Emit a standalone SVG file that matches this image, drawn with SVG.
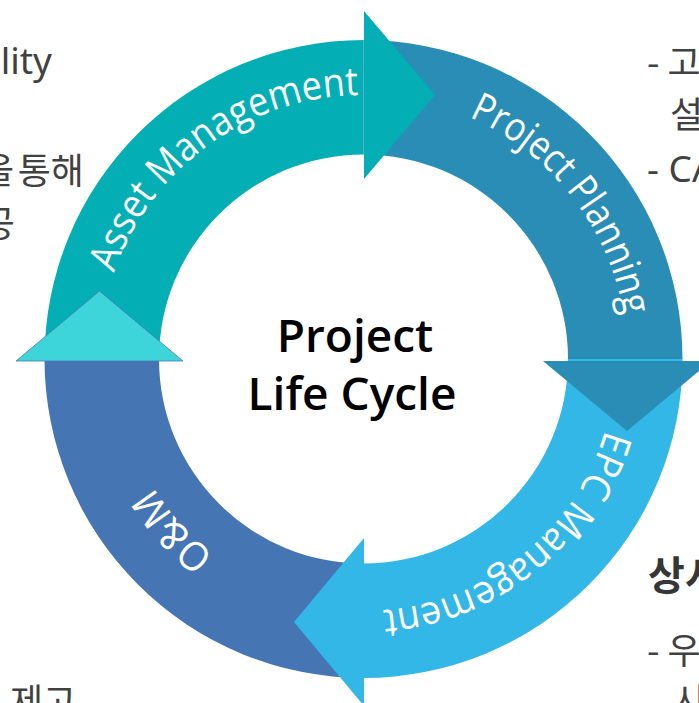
<svg xmlns="http://www.w3.org/2000/svg" width="699" height="703" viewBox="0 0 699 703">
  <style>
    .lbl{font-family:"Open Sans","Noto Sans",sans-serif;font-size:40px;fill:#ffffff}
    .side{font-family:"Noto Sans","Noto Sans CJK KR",sans-serif;font-size:37px;fill:#414141}
    .kr{font-family:"Noto Sans CJK KR","Noto Sans",sans-serif;font-size:36px;fill:#414141}
    .head{font-family:"Noto Sans CJK KR","Noto Sans",sans-serif;font-size:40px;font-weight:700;fill:#363636}
    .title{font-family:"Open Sans","Noto Sans",sans-serif;font-size:46px;font-weight:600;fill:#000000;text-anchor:middle}
  </style>
  <defs>
    <path id="p-asset" d="M 100.95 386.6 A 264 264 0 0 1 470.88 117.82"/>
    <path id="p-plan" d="M 326.76 97.57 A 264 264 0 0 1 608.28 457.9"/>
    <path id="p-epc" d="M 612.4 319.58 A 252 252 0 0 1 273.19 594.26"/>
    <path id="p-om" d="M 414.65 599.62 A 246 246 0 0 1 129.54 282.98"/>
  </defs>
  <rect width="699" height="703" fill="#ffffff"/>

  <g id="side-text">
    <text class="side" x="52" y="74" text-anchor="end">ility</text>
    <text class="kr" x="14" y="184" text-anchor="end">을</text>
    <text class="kr" x="84" y="184" text-anchor="end">통해</text>
    <text class="kr" x="15" y="237" text-anchor="end">제공</text>
    <text class="kr" x="10" y="715">제고</text>
    <text class="kr" x="647" y="76">- 고</text>
    <text class="kr" x="670" y="128">설</text>
    <text class="side" x="647" y="182">- CA</text>
    <text class="head" x="648" y="590">상시</text>
    <text class="kr" x="647" y="664">- 우</text>
    <text class="kr" x="673" y="714">시</text>
  </g>

  <g id="node-asset-management">
    <path fill="#03AFB4" d="M 44.5 359 A 319 319 0 0 1 363.5 40 L 363.5 154.5 A 204.5 204.5 0 0 0 159 359 Z"/>
    <text class="lbl"><textPath href="#p-asset" startOffset="50%" text-anchor="middle" textLength="322" lengthAdjust="spacingAndGlyphs">Asset Management</textPath></text>
  </g>
  <g id="node-project-planning">
    <path fill="#2A8DB5" d="M 363.5 40 A 319 319 0 0 1 682.5 359 L 568 359 A 204.5 204.5 0 0 0 363.5 154.5 Z"/>
    <text class="lbl"><textPath href="#p-plan" startOffset="50%" text-anchor="middle" textLength="262" lengthAdjust="spacingAndGlyphs">Project Planning</textPath></text>
  </g>
  <g id="node-epc-management">
    <path fill="#32B7E6" d="M 682.5 359 A 319 319 0 0 1 363.5 678 L 363.5 563.5 A 204.5 204.5 0 0 0 568 359 Z"/>
    <text class="lbl"><textPath href="#p-epc" startOffset="50%" text-anchor="middle" textLength="305" lengthAdjust="spacingAndGlyphs">EPC Management</textPath></text>
  </g>
  <g id="node-om">
    <path fill="#4576B3" d="M 363.5 678 A 319 319 0 0 1 44.5 359 L 159 359 A 204.5 204.5 0 0 0 363.5 563.5 Z"/>
    <text class="lbl"><textPath href="#p-om" startOffset="50%" text-anchor="middle" textLength="92" lengthAdjust="spacingAndGlyphs">O&amp;M</textPath></text>
  </g>

  <g id="connectors">
    <polygon fill="#03AFB4" points="364,11 435,95 364,179"/>
    <polygon fill="#2A8DB5" points="543,361 711,361 627,431"/>
    <polygon fill="#32B7E6" points="364,538 294,622 364,706"/>
    <polygon fill="#3ED5DA" stroke="#4A78B8" stroke-width="0.8" points="16,361 99.5,291 183,361"/>
  </g>

  <g id="center-title">
    <text class="title" x="355" y="352">Project</text>
    <text class="title" x="352" y="410">Life Cycle</text>
  </g>
</svg>
